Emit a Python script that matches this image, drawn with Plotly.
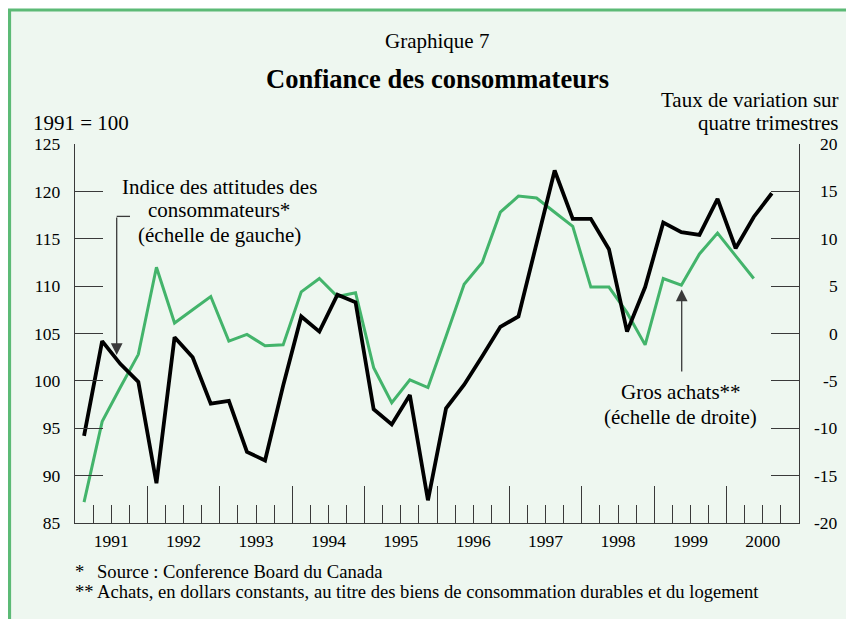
import plotly.graph_objects as go

# ---------------- data ----------------
years = list(range(1991, 2001))
# Indice des attitudes des consommateurs (1991 = 100), quarterly from 1991Q1
indice = [94.2, 104.2, 101.8, 99.9, 89.2, 104.6, 102.5, 97.6, 97.9, 92.5,
          91.6, 99.5, 106.8, 105.2, 109.1, 108.3, 97.0, 95.4, 98.5, 87.4,
          97.1, 99.6, 102.6, 105.7, 106.8, 114.4, 122.2, 117.1, 117.1, 113.9,
          105.2, 109.9, 116.7, 115.7, 115.4, 119.2, 114.0, 117.3, 119.8]
# Gros achats, taux de variation sur quatre trimestres, quarterly from 1991Q1
achats = [-17.8, -9.3, -5.7, -2.2, 7.0, 1.1, 2.5, 3.9, -0.8, -0.1,
          -1.3, -1.2, 4.4, 5.8, 3.9, 4.3, -3.6, -7.3, -4.9, -5.7,
          -0.3, 5.2, 7.5, 12.8, 14.5, 14.3, 12.8, 11.3, 4.9, 4.9,
          2.2, -1.2, 5.8, 5.1, 8.4, 10.6, 8.2, 5.8]
left_ticks = [85, 90, 95, 100, 105, 110, 115, 120, 125]
right_ticks = [-20, -15, -10, -5, 0, 5, 10, 15, 20]

def quarter_mid(n, start=1991):
    return [start + (i + 0.5) / 4 for i in range(n)]

# ---------------- style ----------------
FONT = "Liberation Serif"
GREEN = "#43b46b"
BORDER = "#5cba76"
BG = "#eef7f0"
AX = "#3a3a3a"

fig = go.Figure()
fig.add_trace(go.Scatter(x=quarter_mid(len(achats)), y=achats, mode="lines",
                         line=dict(color=GREEN, width=3), xaxis="x", yaxis="y",
                         showlegend=False, hoverinfo="skip"))
fig.add_trace(go.Scatter(x=quarter_mid(len(indice)), y=indice, mode="lines",
                         line=dict(color="black", width=3.8), xaxis="x", yaxis="y2",
                         showlegend=False, hoverinfo="skip"))
# helper trace to register the tick-mark axis
fig.add_trace(go.Scatter(x=[1991, 2001], y=[None, None], xaxis="x2", yaxis="y",
                         showlegend=False, hoverinfo="skip"))

# plot area (window pixels): x 75..799, y 143.5..523.3
def px(x):  # window pixel -> paper x
    return (x - 75) / 724

def py(y):  # window pixel -> paper y
    return (523.3 - y) / 379.8

ann = []
def text(t, x, y, size=21, xanchor="center", bold=False):
    ann.append(dict(text=("<b>%s</b>" % t) if bold else t, x=px(x), y=py(y),
                    xref="paper", yref="paper", xanchor=xanchor, yanchor="middle",
                    showarrow=False, font=dict(family=FONT, size=size, color="black")))

text("Graphique 7", 436.5, 40.7, 21)
text("Confiance des consommateurs", 437, 78.3, 26.5, bold=True)
text("1991 = 100", 31, 122, 21, xanchor="left")
text("Taux de variation sur", 841, 99, 21, xanchor="right")
text("quatre trimestres", 841, 122.5, 21, xanchor="right")
text("Indice des attitudes des", 219.2, 186.7, 21)
text("consommateurs*", 219.2, 210, 21)
text("(échelle de gauche)", 219.2, 235, 21)
text("Gros achats**", 680.7, 391.7, 21)
text("(échelle de droite)", 680.7, 416.7, 21)
text("*", 72.7, 571.7, 18.6, xanchor="left")
text("Source : Conference Board du Canada", 95, 571.7, 18.6, xanchor="left")
text("**", 72.7, 591.7, 18.6, xanchor="left")
text("Achats, en dollars constants, au titre des biens de consommation durables et du logement",
     95, 591.7, 18.6, xanchor="left")

# right-axis tick labels, right aligned
for v in right_ticks:
    ann.append(dict(text=str(v), x=px(839.5), y=v, xref="paper", yref="y",
                    xanchor="right", yanchor="middle", showarrow=False,
                    font=dict(family=FONT, size=17.5, color="black")))

# arrows
ann.append(dict(text="", x=1991.576, y=102.73, xref="x", yref="y2",
                ax=0, ay=-139, axref="pixel", ayref="pixel", showarrow=True,
                arrowhead=2, arrowsize=1.8, arrowwidth=1.3, arrowcolor=AX, standoff=0))
ann.append(dict(text="", x=1999.38, y=4.64, xref="x", yref="y",
                ax=0, ay=83.4, axref="pixel", ayref="pixel", showarrow=True,
                arrowhead=2, arrowsize=1.8, arrowwidth=1.3, arrowcolor=AX, standoff=0))

shapes = [
    dict(type="rect", xref="paper", yref="paper", x0=px(9.5), x1=1.3, y0=-0.6, y1=py(9.2),
         fillcolor=BG, line=dict(color=BORDER, width=3.2), layer="below"),
    dict(type="line", xref="x", yref="y2", x0=1991.576, x1=1991.76, y0=117.36, y1=117.36,
         line=dict(color=AX, width=1.3)),
]

tickfont = dict(family=FONT, size=17.5, color="black")
# the page body adds an 8 px offset, so margins are in figure pixels (window - 8)
fig.update_layout(
    width=854, height=619,
    margin=dict(l=67, r=63, t=135.5, b=103.7),
    paper_bgcolor="white", plot_bgcolor="rgba(0,0,0,0)",
    showlegend=False,
    xaxis=dict(range=[1991, 2001], tickmode="array", tickvals=[y + 0.5 for y in years],
               ticktext=[str(y) for y in years], ticks="", showline=True, linecolor=AX,
               linewidth=1.3, showgrid=False, zeroline=False, tickfont=tickfont,
               ticklabelstandoff=2, fixedrange=True),
    xaxis2=dict(range=[1991, 2001], overlaying="x", anchor="y", side="bottom",
                tickmode="linear", tick0=1991, dtick=1, ticks="inside", ticklen=37,
                tickcolor=AX, tickwidth=1.3, showticklabels=False, showgrid=False,
                zeroline=False, showline=False,
                minor=dict(tick0=1991, dtick=0.25, ticks="inside", ticklen=18,
                           tickcolor=AX, tickwidth=1.3, showgrid=False)),
    yaxis=dict(range=[-20, 20], side="right", anchor="x", tickmode="array",
               tickvals=right_ticks, ticks="inside", ticklen=28, tickcolor=AX, tickwidth=1.3,
               showticklabels=False, showline=True, linecolor=AX, linewidth=1.3,
               showgrid=False, zeroline=False),
    yaxis2=dict(range=[85, 125], side="left", anchor="x", overlaying="y", tickmode="array",
                tickvals=left_ticks, ticks="inside", ticklen=28, tickcolor=AX, tickwidth=1.3,
                showline=True, linecolor=AX, linewidth=1.3, showgrid=False, zeroline=False,
                tickfont=tickfont, ticklabelstandoff=10),
    annotations=ann,
    shapes=shapes,
)

fig.write_html("out.html")
